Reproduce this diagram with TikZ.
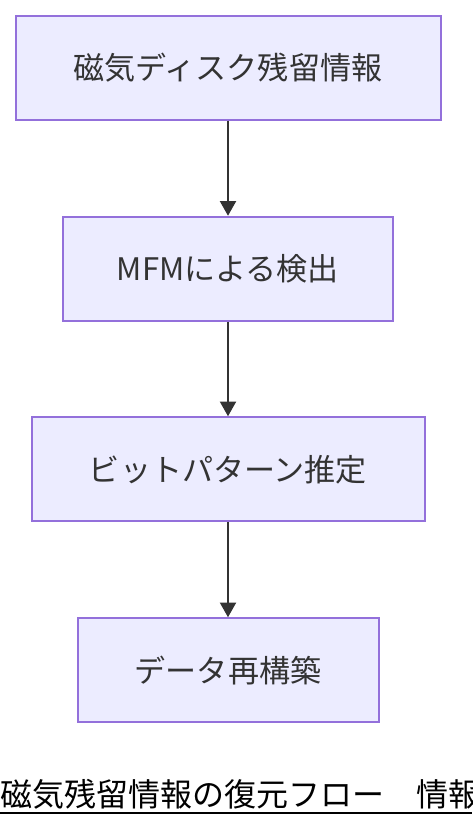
\documentclass[tikz,border=0pt]{standalone}
\usepackage{fontspec}
\setmainfont{Noto Sans CJK JP}
\usetikzlibrary{arrows.meta}

\definecolor{boxfill}{HTML}{ECECFF}
\definecolor{boxline}{HTML}{9370DB}
\definecolor{ink}{HTML}{333333}

\tikzset{
  step box/.style = {draw = boxline, fill = boxfill, line width = 1.5pt,
    minimum height = 78pt, text = ink, font = \fontsize{23.3}{28}\selectfont},
  flow/.style = {draw = ink, line width = 1.5pt,
    -{Triangle[length = 11pt, width = 12pt]}}
}

\begin{document}
\begin{tikzpicture}[x = 0.75pt, y = -0.75pt]
  \useasboundingbox (0, 0) rectangle (472, 828);
  \clip (0, 0) rectangle (472, 828);

  \node[step box, minimum width = 318.75pt] (disk) at (228, 67.5)
    {磁気ディスク残留情報};
  \node[step box, minimum width = 247.5pt] (mfm) at (228, 268.75)
    {MFMによる検出};
  \node[step box, minimum width = 294.75pt] (bits) at (228, 469.25)
    {ビットパターン推定};
  \node[step box, minimum width = 225.75pt] (rebuild) at (228, 670.25)
    {データ再構築};

  \draw[flow] (disk) -- (mfm);
  \draw[flow] (mfm) -- (bits);
  \draw[flow] (bits) -- (rebuild);

  % caption, cut off at the right edge
  \node[anchor = west, inner sep = 0pt, font = \fontsize{24}{28}\selectfont]
    (caption) at (0, 794) {磁気残留情報の復元フロー　情報};
  \draw[line width = 1.3pt] (0, 813) -- (472, 813);
\end{tikzpicture}
\end{document}
